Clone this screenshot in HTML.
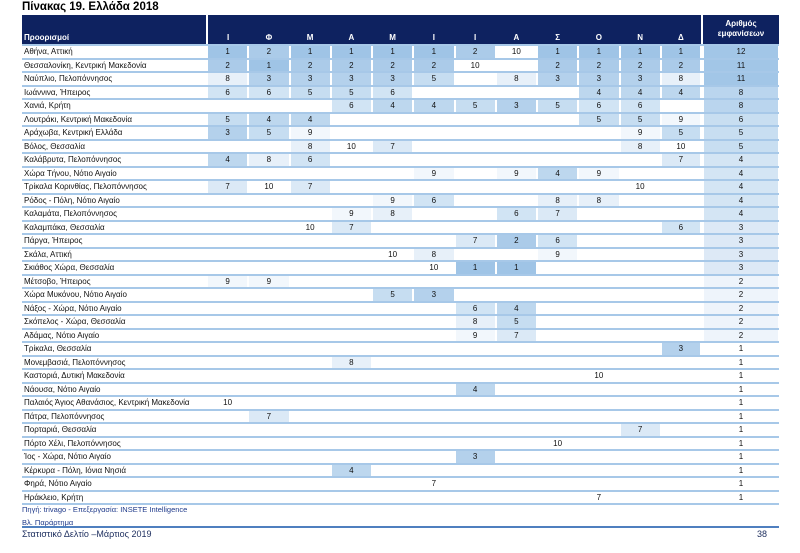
<!DOCTYPE html>
<html><head><meta charset="utf-8">
<style>
body{margin:0;width:800px;height:553px;background:#fff;position:relative;overflow:hidden;font-family:"Liberation Sans",Arial,sans-serif;}
.title{position:absolute;left:22px;top:1px;font-weight:bold;font-size:11.5px;color:#000;}
table{position:absolute;left:22px;top:15px;border-collapse:collapse;table-layout:fixed;width:757px;}
td{padding:0;font-size:8px;text-align:center;height:11.5px;border-bottom:2px solid #a7c8e8;box-shadow:inset 1px 0 0 #fff,inset -1px 0 0 #fff;color:#111;line-height:11px;}
td:first-child{text-align:left;padding-left:2px;box-shadow:none;white-space:nowrap;overflow:visible;}
tr.h td{height:28px;background:#0e2260;color:#fff;font-weight:bold;vertical-align:bottom;border-bottom:2px solid #a7c8e8;box-shadow:none;line-height:10px;padding-bottom:1px;}
tr.h td.cnt{border-left:2px solid #fff;vertical-align:middle;font-size:8px;}
tr.h td.nm{border-right:2px solid #fff;}
.c1{background:#9fc4e6}.c2{background:#abcbe9}.c3{background:#b4d1ec}.c4{background:#bdd7ee}.c5{background:#c6ddf1}.c6{background:#d1e4f4}.c7{background:#dbe9f6}.c8{background:#e7f0f9}.c9{background:#f2f7fc}
.k12,.k11{background:#a2c6e7}.k8{background:#bad5ee}.k6,.k5{background:#c8def1}.k4{background:#d4e5f4}.k3{background:#dde9f6}.k2{background:#eef4fb}
td.cnt{border-left:2px solid #fff;}
.src{position:absolute;left:22px;top:505px;font-size:7.5px;color:#1f3a8a;}
.app{position:absolute;left:22px;top:518px;font-size:7.5px;color:#1f3a8a;}
.line{position:absolute;left:22px;top:526px;width:757px;height:2px;background:#4f7fbf;}
.foot{position:absolute;left:22px;top:529px;font-size:9px;color:#1f3060;}
.pg{position:absolute;left:757px;top:529px;font-size:9px;color:#1f3060;}
</style></head><body>
<div class="title">Πίνακας 19. Ελλάδα 2018</div>
<table>
<colgroup><col style="width:185px"><col span="12" style="width:41.25px"><col style="width:77px"></colgroup>
<tr class="h"><td class="nm">Προορισμοί</td><td>Ι</td><td>Φ</td><td>Μ</td><td>Α</td><td>Μ</td><td>Ι</td><td>Ι</td><td>Α</td><td>Σ</td><td>Ο</td><td>Ν</td><td>Δ</td><td class="cnt">Αριθμός<br>εμφανίσεων</td></tr>
<tr><td>Αθήνα, Αττική</td><td class="c1">1</td><td class="c2">2</td><td class="c1">1</td><td class="c1">1</td><td class="c1">1</td><td class="c1">1</td><td class="c2">2</td><td>10</td><td class="c1">1</td><td class="c1">1</td><td class="c1">1</td><td class="c1">1</td><td class="cnt k12">12</td></tr>
<tr><td>Θεσσαλονίκη, Κεντρική Μακεδονία</td><td class="c2">2</td><td class="c1">1</td><td class="c2">2</td><td class="c2">2</td><td class="c2">2</td><td class="c2">2</td><td>10</td><td></td><td class="c2">2</td><td class="c2">2</td><td class="c2">2</td><td class="c2">2</td><td class="cnt k11">11</td></tr>
<tr><td>Ναύπλιο, Πελοπόννησος</td><td class="c8">8</td><td class="c3">3</td><td class="c3">3</td><td class="c3">3</td><td class="c3">3</td><td class="c5">5</td><td></td><td class="c8">8</td><td class="c3">3</td><td class="c3">3</td><td class="c3">3</td><td class="c8">8</td><td class="cnt k11">11</td></tr>
<tr><td>Ιωάννινα, Ήπειρος</td><td class="c6">6</td><td class="c6">6</td><td class="c5">5</td><td class="c5">5</td><td class="c6">6</td><td></td><td></td><td></td><td></td><td class="c4">4</td><td class="c4">4</td><td class="c4">4</td><td class="cnt k8">8</td></tr>
<tr><td>Χανιά, Κρήτη</td><td></td><td></td><td></td><td class="c6">6</td><td class="c4">4</td><td class="c4">4</td><td class="c5">5</td><td class="c3">3</td><td class="c5">5</td><td class="c6">6</td><td class="c6">6</td><td></td><td class="cnt k8">8</td></tr>
<tr><td>Λουτράκι, Κεντρική Μακεδονία</td><td class="c5">5</td><td class="c4">4</td><td class="c4">4</td><td></td><td></td><td></td><td></td><td></td><td></td><td class="c5">5</td><td class="c5">5</td><td class="c9">9</td><td class="cnt k6">6</td></tr>
<tr><td>Αράχωβα, Κεντρική Ελλάδα</td><td class="c3">3</td><td class="c5">5</td><td class="c9">9</td><td></td><td></td><td></td><td></td><td></td><td></td><td></td><td class="c9">9</td><td class="c5">5</td><td class="cnt k5">5</td></tr>
<tr><td>Βόλος, Θεσσαλία</td><td></td><td></td><td class="c8">8</td><td>10</td><td class="c7">7</td><td></td><td></td><td></td><td></td><td></td><td class="c8">8</td><td>10</td><td class="cnt k5">5</td></tr>
<tr><td>Καλάβρυτα, Πελοπόννησος</td><td class="c4">4</td><td class="c8">8</td><td class="c6">6</td><td></td><td></td><td></td><td></td><td></td><td></td><td></td><td></td><td class="c7">7</td><td class="cnt k4">4</td></tr>
<tr><td>Χώρα Τήνου, Νότιο Αιγαίο</td><td></td><td></td><td></td><td></td><td></td><td class="c9">9</td><td></td><td class="c9">9</td><td class="c4">4</td><td class="c9">9</td><td></td><td></td><td class="cnt k4">4</td></tr>
<tr><td>Τρίκαλα Κορινθίας, Πελοπόννησος</td><td class="c7">7</td><td>10</td><td class="c7">7</td><td></td><td></td><td></td><td></td><td></td><td></td><td></td><td>10</td><td></td><td class="cnt k4">4</td></tr>
<tr><td>Ρόδος - Πόλη, Νότιο Αιγαίο</td><td></td><td></td><td></td><td></td><td class="c9">9</td><td class="c6">6</td><td></td><td></td><td class="c8">8</td><td class="c8">8</td><td></td><td></td><td class="cnt k4">4</td></tr>
<tr><td>Καλαμάτα, Πελοπόννησος</td><td></td><td></td><td></td><td class="c9">9</td><td class="c8">8</td><td></td><td></td><td class="c6">6</td><td class="c7">7</td><td></td><td></td><td></td><td class="cnt k4">4</td></tr>
<tr><td>Καλαμπάκα, Θεσσαλία</td><td></td><td></td><td>10</td><td class="c7">7</td><td></td><td></td><td></td><td></td><td></td><td></td><td></td><td class="c6">6</td><td class="cnt k3">3</td></tr>
<tr><td>Πάργα, Ήπειρος</td><td></td><td></td><td></td><td></td><td></td><td></td><td class="c7">7</td><td class="c2">2</td><td class="c6">6</td><td></td><td></td><td></td><td class="cnt k3">3</td></tr>
<tr><td>Σκάλα, Αττική</td><td></td><td></td><td></td><td></td><td>10</td><td class="c8">8</td><td></td><td></td><td class="c9">9</td><td></td><td></td><td></td><td class="cnt k3">3</td></tr>
<tr><td>Σκιάθος Χώρα, Θεσσαλία</td><td></td><td></td><td></td><td></td><td></td><td>10</td><td class="c1">1</td><td class="c1">1</td><td></td><td></td><td></td><td></td><td class="cnt k3">3</td></tr>
<tr><td>Μέτσοβο, Ήπειρος</td><td class="c9">9</td><td class="c9">9</td><td></td><td></td><td></td><td></td><td></td><td></td><td></td><td></td><td></td><td></td><td class="cnt k2">2</td></tr>
<tr><td>Χώρα Μυκόνου, Νότιο Αιγαίο</td><td></td><td></td><td></td><td></td><td class="c5">5</td><td class="c3">3</td><td></td><td></td><td></td><td></td><td></td><td></td><td class="cnt k2">2</td></tr>
<tr><td>Νάξος - Χώρα, Νότιο Αιγαίο</td><td></td><td></td><td></td><td></td><td></td><td></td><td class="c6">6</td><td class="c4">4</td><td></td><td></td><td></td><td></td><td class="cnt k2">2</td></tr>
<tr><td>Σκόπελος - Χώρα, Θεσσαλία</td><td></td><td></td><td></td><td></td><td></td><td></td><td class="c8">8</td><td class="c5">5</td><td></td><td></td><td></td><td></td><td class="cnt k2">2</td></tr>
<tr><td>Αδάμας, Νότιο Αιγαίο</td><td></td><td></td><td></td><td></td><td></td><td></td><td class="c9">9</td><td class="c7">7</td><td></td><td></td><td></td><td></td><td class="cnt k2">2</td></tr>
<tr><td>Τρίκαλα, Θεσσαλία</td><td></td><td></td><td></td><td></td><td></td><td></td><td></td><td></td><td></td><td></td><td></td><td class="c3">3</td><td class="cnt">1</td></tr>
<tr><td>Μονεμβασιά, Πελοπόννησος</td><td></td><td></td><td></td><td class="c8">8</td><td></td><td></td><td></td><td></td><td></td><td></td><td></td><td></td><td class="cnt">1</td></tr>
<tr><td>Καστοριά, Δυτική Μακεδονία</td><td></td><td></td><td></td><td></td><td></td><td></td><td></td><td></td><td></td><td>10</td><td></td><td></td><td class="cnt">1</td></tr>
<tr><td>Νάουσα, Νότιο Αιγαίο</td><td></td><td></td><td></td><td></td><td></td><td></td><td class="c4">4</td><td></td><td></td><td></td><td></td><td></td><td class="cnt">1</td></tr>
<tr><td>Παλαιός Άγιος Αθανάσιος, Κεντρική Μακεδονία</td><td>10</td><td></td><td></td><td></td><td></td><td></td><td></td><td></td><td></td><td></td><td></td><td></td><td class="cnt">1</td></tr>
<tr><td>Πάτρα, Πελοπόννησος</td><td></td><td class="c7">7</td><td></td><td></td><td></td><td></td><td></td><td></td><td></td><td></td><td></td><td></td><td class="cnt">1</td></tr>
<tr><td>Πορταριά, Θεσσαλία</td><td></td><td></td><td></td><td></td><td></td><td></td><td></td><td></td><td></td><td></td><td class="c7">7</td><td></td><td class="cnt">1</td></tr>
<tr><td>Πόρτο Χέλι, Πελοπόννησος</td><td></td><td></td><td></td><td></td><td></td><td></td><td></td><td></td><td>10</td><td></td><td></td><td></td><td class="cnt">1</td></tr>
<tr><td>Ίος - Χώρα, Νότιο Αιγαίο</td><td></td><td></td><td></td><td></td><td></td><td></td><td class="c3">3</td><td></td><td></td><td></td><td></td><td></td><td class="cnt">1</td></tr>
<tr><td>Κέρκυρα - Πόλη, Ιόνια Νησιά</td><td></td><td></td><td></td><td class="c4">4</td><td></td><td></td><td></td><td></td><td></td><td></td><td></td><td></td><td class="cnt">1</td></tr>
<tr><td>Φηρά, Νότιο Αιγαίο</td><td></td><td></td><td></td><td></td><td></td><td>7</td><td></td><td></td><td></td><td></td><td></td><td></td><td class="cnt">1</td></tr>
<tr><td>Ηράκλειο, Κρήτη</td><td></td><td></td><td></td><td></td><td></td><td></td><td></td><td></td><td></td><td>7</td><td></td><td></td><td class="cnt">1</td></tr>
</table>
<div class="src">Πηγή: trivago - Επεξεργασία: INSETE Intelligence</div>
<div class="app">Βλ. Παράρτημα</div>
<div class="line"></div>
<div class="foot">Στατιστικό Δελτίο –Μάρτιος 2019</div>
<div class="pg">38</div>
</body></html>
